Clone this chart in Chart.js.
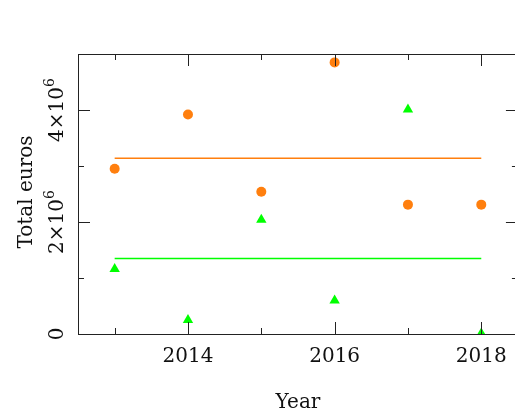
<!DOCTYPE html>
<html>
<head>
<meta charset="utf-8">
<script src="https://cdn.jsdelivr.net/npm/chart.js@4"></script>
<style>
  html, body { margin: 0; padding: 0; background: #fff; }
  #wrap { width: 515px; height: 413px; }
</style>
</head>
<body>
<div id="wrap"><canvas id="myChart" width="515" height="413"></canvas></div>
<script>
// data
var years = [2013, 2014, 2015, 2016, 2017, 2018];
var orangeVals = [2.95e6, 3.92e6, 2.54e6, 4.85e6, 2.31e6, 2.31e6];
var greenVals = [1.16e6, 0.25e6, 2.04e6, 0.60e6, 4.01e6, 0.01e6];
var orangeMean = 3.14e6;
var greenMean = 1.35e6;

var xTicks = [2013, 2014, 2015, 2016, 2017, 2018];
var xMajor = [2014, 2016, 2018];
var yTicks = [0, 1e6, 2e6, 3e6, 4e6, 5e6];
var yMajor = [0, 2e6, 4e6];
var yLabelBase = ['0', '2\u00d710', '4\u00d710'];
var yLabelSup = ['', '6', '6'];

var orange = '#ff7f0e';
var green = '#00ff00';
var fontName = '"DejaVu Serif", serif';

function pts(vals) {
  var out = [];
  for (var i = 0; i < years.length; i++) out.push({x: years[i], y: vals[i]});
  return out;
}
function meanLine(m) {
  return [{x: years[0], y: m}, {x: years[years.length - 1], y: m}];
}

var framePlugin = {
  id: 'frame',
  afterDraw: function(chart) {
    var ctx = chart.ctx, a = chart.chartArea;
    var xs = chart.scales.x, ys = chart.scales.y;
    // the right border sits just past the canvas edge
    var rightEdge = xs.getPixelForValue(2018.5);
    ctx.save();
    ctx.strokeStyle = '#222';
    ctx.lineWidth = 1;
    ctx.beginPath();
    ctx.moveTo(chart.width, a.top + 0.5);
    ctx.lineTo(a.left + 0.5, a.top + 0.5);
    ctx.lineTo(a.left + 0.5, a.bottom + 0.5);
    ctx.lineTo(chart.width, a.bottom + 0.5);
    ctx.stroke();

    // x ticks, bottom and top
    ctx.beginPath();
    xTicks.forEach(function(t) {
      var px = Math.round(xs.getPixelForValue(t)) + 0.5;
      var len = xMajor.indexOf(t) >= 0 ? 12 : 6;
      ctx.moveTo(px, a.bottom); ctx.lineTo(px, a.bottom - len);
      ctx.moveTo(px, a.top); ctx.lineTo(px, a.top + len);
    });
    yTicks.forEach(function(t) {
      var py = Math.round(ys.getPixelForValue(t)) + 0.5;
      var len = yMajor.indexOf(t) >= 0 ? 12 : 6;
      ctx.moveTo(a.left, py); ctx.lineTo(a.left + len, py);
      ctx.moveTo(chart.width, py); ctx.lineTo(rightEdge - len, py);
    });
    ctx.stroke();

    // x labels
    ctx.fillStyle = '#111';
    ctx.font = '20px ' + fontName;
    ctx.textAlign = 'center';
    ctx.textBaseline = 'alphabetic';
    xMajor.forEach(function(t) {
      ctx.fillText(String(t), xs.getPixelForValue(t), 362);
    });
    ctx.fillText('Year', 298, 408);

    // y labels, rotated
    yMajor.forEach(function(t, i) {
      var py = ys.getPixelForValue(t);
      ctx.save();
      ctx.translate(63, py);
      ctx.rotate(-Math.PI / 2);
      ctx.textAlign = 'left';
      ctx.font = '20px ' + fontName;
      var w1 = ctx.measureText(yLabelBase[i]).width;
      ctx.font = '14px ' + fontName;
      var w2 = yLabelSup[i] ? ctx.measureText(yLabelSup[i]).width : 0;
      var x0 = -(w1 + w2) / 2;
      ctx.font = '20px ' + fontName;
      ctx.fillText(yLabelBase[i], x0, 0);
      if (yLabelSup[i]) {
        ctx.font = '14px ' + fontName;
        ctx.fillText(yLabelSup[i], x0 + w1, -9);
      }
      ctx.restore();
    });

    ctx.save();
    ctx.translate(32, 192);
    ctx.rotate(-Math.PI / 2);
    ctx.font = '20px ' + fontName;
    ctx.textAlign = 'center';
    ctx.fillText('Total euros', 0, 0);
    ctx.restore();
    ctx.restore();
  }
};

var ctx = document.getElementById('myChart').getContext('2d');
var myChart = new Chart(ctx, {
  type: 'scatter',
  data: {
    datasets: [{
      label: 'orange mean',
      type: 'line',
      data: meanLine(orangeMean),
      borderColor: orange,
      borderWidth: 1.5,
      pointRadius: 0,
      fill: false
    }, {
      label: 'green mean',
      type: 'line',
      data: meanLine(greenMean),
      borderColor: green,
      borderWidth: 1.5,
      pointRadius: 0,
      fill: false
    }, {
      label: 'orange',
      data: pts(orangeVals),
      backgroundColor: orange,
      borderColor: orange,
      pointStyle: 'circle',
      pointRadius: 5,
      borderWidth: 0
    }, {
      label: 'green',
      data: pts(greenVals),
      backgroundColor: green,
      borderColor: green,
      pointStyle: 'triangle',
      pointRadius: 6,
      borderWidth: 0
    }]
  },
  options: {
    responsive: false,
    animation: false,
    layout: { autoPadding: false, padding: { left: 78, right: 0, top: 54, bottom: 79 } },
    plugins: { legend: { display: false }, tooltip: { enabled: false } },
    scales: {
      x: { type: 'linear', min: 2012.5, max: 2018.46, display: false },
      y: { type: 'linear', min: 0, max: 5e6, display: false }
    }
  },
  plugins: [framePlugin]
});
</script>
</body>
</html>
